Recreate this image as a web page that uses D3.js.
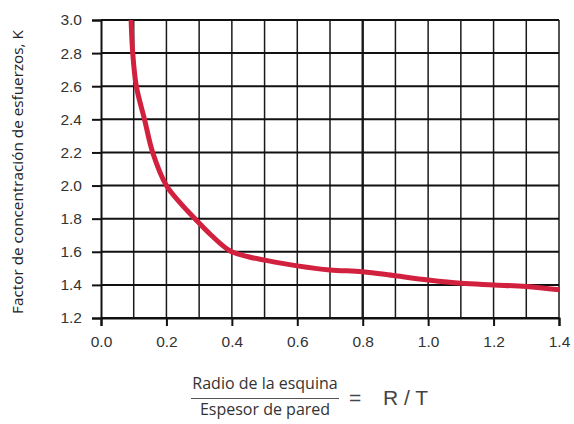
<!DOCTYPE html>
<html>
<head>
<meta charset="utf-8">
<script src="https://cdn.jsdelivr.net/npm/d3@7"></script>
<style>
  body { margin: 0; background: #fff; }
  svg { display: block; }
</style>
</head>
<body>
<svg id="chart" width="574" height="424"></svg>
<script>
"use strict";

// Values: R/T against K
var ratio = [0.092, 0.097, 0.108, 0.133, 0.158, 0.2, 0.24, 0.287, 0.337, 0.395,
             0.45, 0.5, 0.6, 0.7, 0.8, 0.9, 1.0, 1.1, 1.2, 1.3, 1.4];
var factor = [3.0, 2.8, 2.6, 2.4, 2.2, 2.0, 1.9, 1.8, 1.7, 1.605,
              1.57, 1.55, 1.515, 1.49, 1.48, 1.455, 1.43, 1.41, 1.40, 1.39, 1.37];

var x_ticks = [0.0, 0.2, 0.4, 0.6, 0.8, 1.0, 1.2, 1.4];
var x_grid = [0.1, 0.2, 0.3, 0.4, 0.5, 0.6, 0.7, 0.8, 0.9, 1.0, 1.1, 1.2, 1.3, 1.4];
var y_ticks = [1.2, 1.4, 1.6, 1.8, 2.0, 2.2, 2.4, 2.6, 2.8, 3.0];

var svg = d3.select("#chart");
// plot frame in pixels (note: "top" clashes with window.top)
var plot_left = 101, plot_right = 559, plot_top = 20, plot_bottom = 318;

var x = d3.scaleLinear().domain([0, 1.4]).range([plot_left, plot_right]);
var y = d3.scaleLinear().domain([1.2, 3.0]).range([plot_bottom, plot_top]);

// grid
svg.append("g").selectAll("line").data(x_grid).join("line")
    .attr("x1", function(d) { return x(d); })
    .attr("x2", function(d) { return x(d); })
    .attr("y1", plot_top).attr("y2", plot_bottom)
    .attr("stroke", "#1a1a1a")
    .attr("stroke-width", function(d) { return Math.abs(d - 0.8) < 1e-6 ? 2.4 : 1.5; });

svg.append("g").selectAll("line").data(y_ticks).join("line")
    .attr("x1", plot_left).attr("x2", plot_right)
    .attr("y1", function(d) { return y(d); })
    .attr("y2", function(d) { return y(d); })
    .attr("stroke", "#111")
    .attr("stroke-width", 2);

// axes, ticks only outside the frame
var xAxis = d3.axisBottom(x).tickValues(x_ticks).tickSize(8).tickPadding(10)
    .tickFormat(d3.format(".1f"));
var yAxis = d3.axisLeft(y).tickValues(y_ticks).tickSize(9).tickPadding(10)
    .tickFormat(d3.format(".1f"));

var gx = svg.append("g").attr("transform", "translate(0," + plot_bottom + ")").call(xAxis);
var gy = svg.append("g").attr("transform", "translate(" + plot_left + ",0)").call(yAxis);

[gx, gy].forEach(function(g) {
    g.select(".domain").attr("stroke", "#111").attr("stroke-width", 2);
    g.selectAll(".tick line").attr("stroke", "#111").attr("stroke-width", 2);
    g.selectAll(".tick text")
        .attr("fill", "#333")
        .style("font-family", "'Liberation Sans', Arial, sans-serif")
        .style("font-size", "15.5px");
});

// curve
var line = d3.line()
    .x(function(d) { return x(d[0]); })
    .y(function(d) { return y(d[1]); })
    .curve(d3.curveCatmullRom.alpha(0.5));

svg.append("path")
    .datum(d3.zip(ratio, factor))
    .attr("d", line)
    .attr("fill", "none")
    .attr("stroke", "#d2213f")
    .attr("stroke-width", 5);

// y title
svg.append("text")
    .attr("transform", "translate(23,172) rotate(-90)")
    .attr("text-anchor", "middle")
    .attr("fill", "#222")
    .style("font-family", "'Open Sans', sans-serif")
    .style("font-size", "15.3px")
    .text("Factor de concentración de esfuerzos, K");

// x title as a fraction
var fx = 265;
svg.append("text")
    .attr("x", fx).attr("y", 389)
    .attr("text-anchor", "middle")
    .attr("fill", "#333")
    .style("font-family", "'Open Sans', sans-serif")
    .style("font-size", "16px")
    .text("Radio de la esquina");
svg.append("line")
    .attr("x1", fx - 74).attr("x2", fx + 74)
    .attr("y1", 398.5).attr("y2", 398.5)
    .attr("stroke", "#555").attr("stroke-width", 1);
svg.append("text")
    .attr("x", fx).attr("y", 415)
    .attr("text-anchor", "middle")
    .attr("fill", "#333")
    .style("font-family", "'Open Sans', sans-serif")
    .style("font-size", "16px")
    .text("Espesor de pared");
svg.append("text")
    .attr("x", 349).attr("y", 405)
    .attr("fill", "#444")
    .style("font-family", "'Liberation Sans', Arial, sans-serif")
    .style("font-size", "21px")
    .text("=");
svg.append("text")
    .attr("x", 383).attr("y", 405)
    .attr("fill", "#444")
    .style("font-family", "'Liberation Sans', Arial, sans-serif")
    .style("font-size", "21px")
    .text("R / T");
</script>
</body>
</html>
